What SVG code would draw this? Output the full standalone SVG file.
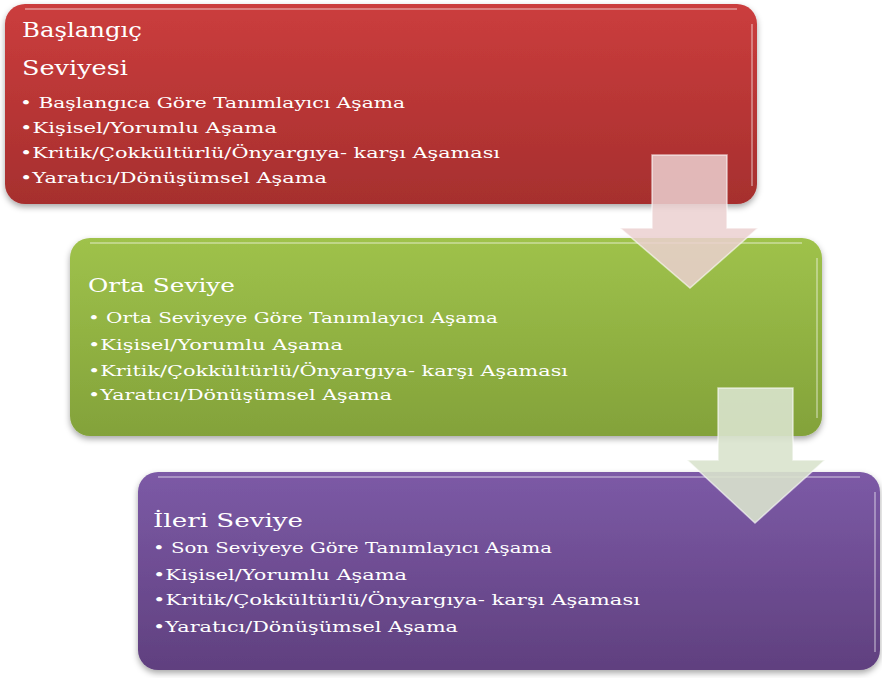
<svg xmlns="http://www.w3.org/2000/svg" width="882" height="678" viewBox="0 0 882 678">
<defs>
<linearGradient id="gRed" x1="0" y1="0" x2="0" y2="1"><stop offset="0" stop-color="#CB3D3D"/><stop offset="1" stop-color="#A62F2E"/></linearGradient>
<linearGradient id="gGreen" x1="0" y1="0" x2="0" y2="1"><stop offset="0" stop-color="#9FC24B"/><stop offset="1" stop-color="#83A23A"/></linearGradient>
<linearGradient id="gPurple" x1="0" y1="0" x2="0" y2="1"><stop offset="0" stop-color="#7C5AA6"/><stop offset="1" stop-color="#60407F"/></linearGradient>
<filter id="sh" x="-5%" y="-5%" width="110%" height="115%"><feDropShadow dx="0" dy="3" stdDeviation="3" flood-color="#000" flood-opacity="0.35"/></filter>
</defs>
<style>
.t{font-family:"DejaVu Serif","Liberation Serif",serif;fill:#FFFFFF;}
.h1{font-size:21px;}
.h2{font-size:19px;}
.b{font-size:15px;}
.hl{fill:none;stroke:#FFFFFF;stroke-opacity:0.35;stroke-width:2;}
.arr{stroke:#FFFFFF;stroke-opacity:0.6;stroke-width:1.5;}
</style>
<rect width="882" height="678" fill="#FFFFFF"/>
<g id="node-baslangic">
<rect x="5" y="4" width="752" height="200" rx="20" fill="url(#gRed)" filter="url(#sh)"/>
<path class="hl" d="M25 9 H737"/>
<path class="hl" d="M752 24 V186"/>
<text class="t h1" x="22" y="37" textLength="120" lengthAdjust="spacingAndGlyphs">Başlangıç</text>
<text class="t h1" x="22" y="75" textLength="106" lengthAdjust="spacingAndGlyphs">Seviyesi</text>
<text class="t b" x="20" y="108" textLength="385" lengthAdjust="spacingAndGlyphs">• Başlangıca Göre Tanımlayıcı Aşama</text>
<text class="t b" x="20" y="133" textLength="257" lengthAdjust="spacingAndGlyphs">•Kişisel/Yorumlu Aşama</text>
<text class="t b" x="20" y="158" textLength="480" lengthAdjust="spacingAndGlyphs">•Kritik/Çokkültürlü/Önyargıya- karşı Aşaması</text>
<text class="t b" x="20" y="183" textLength="307" lengthAdjust="spacingAndGlyphs">•Yaratıcı/Dönüşümsel Aşama</text>
</g>
<g id="node-orta">
<rect x="70" y="238" width="752" height="198" rx="20" fill="url(#gGreen)" filter="url(#sh)"/>
<path class="hl" d="M90 243 H802"/>
<path class="hl" d="M817 258 V418"/>
<text class="t h2" x="88" y="292" textLength="147" lengthAdjust="spacingAndGlyphs">Orta Seviye</text>
<text class="t b" x="88" y="323" textLength="410" lengthAdjust="spacingAndGlyphs">• Orta Seviyeye Göre Tanımlayıcı Aşama</text>
<text class="t b" x="88" y="350" textLength="255" lengthAdjust="spacingAndGlyphs">•Kişisel/Yorumlu Aşama</text>
<text class="t b" x="88" y="376" textLength="480" lengthAdjust="spacingAndGlyphs">•Kritik/Çokkültürlü/Önyargıya- karşı Aşaması</text>
<text class="t b" x="88" y="400" textLength="304" lengthAdjust="spacingAndGlyphs">•Yaratıcı/Dönüşümsel Aşama</text>
</g>
<g id="node-ileri">
<rect x="138" y="472" width="742" height="198" rx="20" fill="url(#gPurple)" filter="url(#sh)"/>
<path class="hl" d="M158 477 H860"/>
<path class="hl" d="M875 492 V652"/>
<text class="t h2" x="153" y="527" textLength="150" lengthAdjust="spacingAndGlyphs">İleri  Seviye</text>
<text class="t b" x="153" y="553" textLength="399" lengthAdjust="spacingAndGlyphs">• Son Seviyeye Göre Tanımlayıcı Aşama</text>
<text class="t b" x="153" y="580" textLength="254" lengthAdjust="spacingAndGlyphs">•Kişisel/Yorumlu Aşama</text>
<text class="t b" x="153" y="605" textLength="487" lengthAdjust="spacingAndGlyphs">•Kritik/Çokkültürlü/Önyargıya- karşı Aşaması</text>
<text class="t b" x="153" y="632" textLength="305" lengthAdjust="spacingAndGlyphs">•Yaratıcı/Dönüşümsel Aşama</text>
</g>
<g id="connectors">
<polygon class="arr" points="652,155 727,155 727,228 758,228 690,288 620,228 652,228" fill="#EBD0D0" fill-opacity="0.85"/>
<polygon class="arr" points="718,388 793,388 793,460 825,460 755,523 687,460 718,460" fill="#D9E3CD" fill-opacity="0.9"/>
</g>
</svg>
